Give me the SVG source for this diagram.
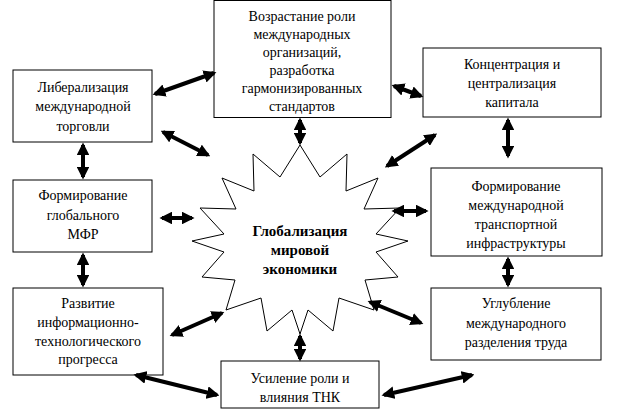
<svg xmlns="http://www.w3.org/2000/svg" width="617" height="410" viewBox="0 0 617 410" font-family="Liberation Serif, DejaVu Serif, serif">
<style>
.b{fill:#fff;stroke:#000;stroke-width:1}
text{font-family:'Liberation Serif','DejaVu Serif',serif;font-size:14px;text-anchor:middle;fill:#000}
.c{font-weight:bold;font-size:15px}
.a{stroke:#000;stroke-width:4;fill:none;marker-start:url(#h);marker-end:url(#h)}
</style>
<defs>
<marker id="h" viewBox="0 0 10 10" refX="8" refY="5" markerWidth="3.2" markerHeight="3.2" orient="auto-start-reverse" markerUnits="strokeWidth">
<path d="M0,0L10,5L0,10z" fill="#000"/>
</marker>
</defs>
<rect width="617" height="410" fill="#fff"/>
<g id="star">
<polygon class="b" points="300,145 320,177 347,154 346,191 378,178 364,209 400,208 376,234 408,241 376,252 398,277 365,280 374,310 339,298 333,331 308,310 300,334 292,310 267,331 261,298 226,310 235,280 202,277 224,252 192,241 224,234 200,208 236,209 222,178 254,191 253,154 280,177"/>
<text class="c" x="300" y="236">Глобализация</text>
<text class="c" x="300" y="255">мировой</text>
<text class="c" x="300" y="274">экономики</text>
</g>
<g id="n_top"><rect class="b" x="214" y="0.5" width="177" height="117"/>
<text x="302" y="21">Возрастание роли</text><text x="302" y="39">международных</text><text x="302" y="57">организаций,</text><text x="302" y="75">разработка</text><text x="302" y="93">гармонизированных</text><text x="302" y="111">стандартов</text></g>
<g id="n_l1"><rect class="b" x="13" y="70" width="139" height="72"/>
<text x="83" y="92">Либерализация</text><text x="83" y="111">международной</text><text x="83" y="131">торговли</text></g>
<g id="n_r1"><rect class="b" x="423" y="48" width="178" height="69"/>
<text x="512" y="69">Концентрация и</text><text x="512" y="88">централизация</text><text x="512" y="107">капитала</text></g>
<g id="n_l2"><rect class="b" x="13" y="180" width="139" height="72"/>
<text x="83" y="200">Формирование</text><text x="83" y="220">глобального</text><text x="83" y="239">МФР</text></g>
<g id="n_r2"><rect class="b" x="431" y="168" width="171" height="88"/>
<text x="516" y="191">Формирование</text><text x="516" y="210">международной</text><text x="516" y="229">транспортной</text><text x="516" y="248">инфраструктуры</text></g>
<g id="n_l3"><rect class="b" x="13" y="288" width="150" height="87"/>
<text x="88" y="308">Развитие</text><text x="88" y="327">информационно-</text><text x="88" y="346">технологического</text><text x="88" y="364">прогресса</text></g>
<g id="n_r3"><rect class="b" x="431" y="288" width="170" height="72"/>
<text x="516" y="308">Углубление</text><text x="516" y="328">международного</text><text x="516" y="347">разделения труда</text></g>
<g id="n_bot"><rect class="b" x="221" y="361" width="158" height="47"/>
<text x="300" y="383">Усиление роли и</text><text x="300" y="402">влияния ТНК</text></g>
<g id="connectors">
<line class="a" x1="163" y1="132" x2="208" y2="155"/>
<line class="a" x1="155" y1="94" x2="214" y2="73"/>
<line class="a" x1="394" y1="86" x2="421" y2="96"/>
<line class="a" x1="300" y1="120" x2="300" y2="143"/>
<line class="a" x1="435" y1="135" x2="387" y2="166"/>
<line class="a" x1="508" y1="120" x2="508" y2="156"/>
<line class="a" x1="83" y1="145" x2="83" y2="177"/>
<line class="a" x1="162" y1="218" x2="192" y2="218"/>
<line class="a" x1="394" y1="211" x2="426" y2="211"/>
<line class="a" x1="83" y1="255" x2="83" y2="285"/>
<line class="a" x1="508" y1="259" x2="508" y2="285"/>
<line class="a" x1="172" y1="335" x2="222" y2="313"/>
<line class="a" x1="370" y1="302" x2="421" y2="323"/>
<line class="a" x1="300" y1="336" x2="300" y2="359"/>
<line class="a" x1="136" y1="375" x2="217" y2="395"/>
<line class="a" x1="384" y1="395" x2="472" y2="375"/>
</g>
</svg>
